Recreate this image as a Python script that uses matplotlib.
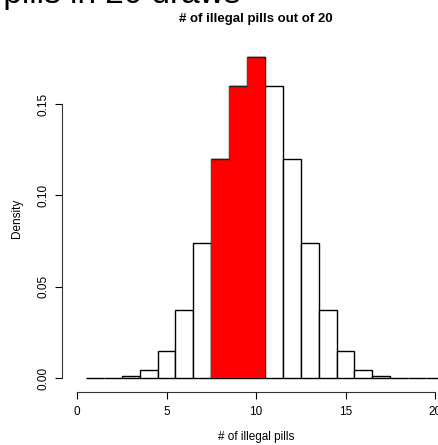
import matplotlib
matplotlib.use("Agg")
import matplotlib.pyplot as plt

plt.rcParams['font.family'] = ['Liberation Sans', 'DejaVu Sans']

# number of illegal pills out of 20 and the density of each count
pills = list(range(1, 21))
density = [0.00002, 0.00018, 0.0011, 0.0046, 0.0148, 0.037, 0.074, 0.120, 0.160, 0.176,
           0.160, 0.120, 0.074, 0.037, 0.0148, 0.0046, 0.0011, 0.00018, 0.00002, 0.000001]
highlight = [8, 9, 10]

x_ticks = [0, 5, 10, 15, 20]
y_ticks = [0.00, 0.05, 0.10, 0.15]

W, H = 438, 445
fig = plt.figure(figsize=(W / 100, H / 100), dpi=100)

# axes box in pixels: left 62, right 438, top 40, bottom 392
ax = fig.add_axes([62 / W, 1 - 392 / H, (438 - 62) / W, (392 - 40) / H])
px_x = 17.9
px_y = 1826.7
ax.set_xlim(-(77 - 62) / px_x, (438 - 77) / px_x)
ax.set_ylim(-(392 - 378) / px_y, (378 - 40) / px_y)

# plain histogram first
ax.bar(pills, density, width=1.0, color='white', edgecolor='black', linewidth=1.0, zorder=2)

# red shading over the highlighted counts, no inner borders
hx = [p for p in pills if p in highlight]
hy = [d for p, d in zip(pills, density) if p in highlight]
ax.bar(hx, hy, width=1.0, color='red', edgecolor='none', linewidth=0, zorder=3)
ax.hlines(hy, [x - 0.5 for x in hx], [x + 0.5 for x in hx], colors='#222222', linewidth=1.0, zorder=4)

for s in ['top', 'right']:
    ax.spines[s].set_visible(False)
ax.spines['left'].set_bounds(0, 0.15)
ax.spines['bottom'].set_bounds(0, 20)
ax.spines['left'].set_color('#333333')
ax.spines['bottom'].set_color('#333333')

ax.set_xticks(x_ticks)
ax.set_xticklabels([str(t) for t in x_ticks])
ax.set_yticks(y_ticks)
ax.set_yticklabels(['%.2f' % t for t in y_ticks], rotation=90, va='center')
ax.tick_params(axis='both', direction='out', length=5, width=0.8, labelsize=8.5, colors='black')
ax.tick_params(axis='x', pad=5)
ax.tick_params(axis='y', pad=4)

ax.set_xlabel('# of illegal pills', fontsize=8.5)
ax.xaxis.set_label_coords((256 - 62) / 376, (392 - 437) / 352)
ax.xaxis.label.set_va('center')
ax.set_ylabel('Density', fontsize=8.5)
ax.yaxis.set_label_coords((17 - 62) / 376, (392 - 218) / 352)
ax.yaxis.label.set_va('center')

fig.text(240 / W, 1 - 3 / H, 'Distribution of illegal pills in 20 draws',
         fontsize=24, ha='right', va='baseline')
fig.text(256 / W, 1 - 22 / H, '# of illegal pills out of 20',
         fontsize=9.5, fontweight='bold', ha='center', va='baseline')

fig.savefig('out.png', dpi=100)
